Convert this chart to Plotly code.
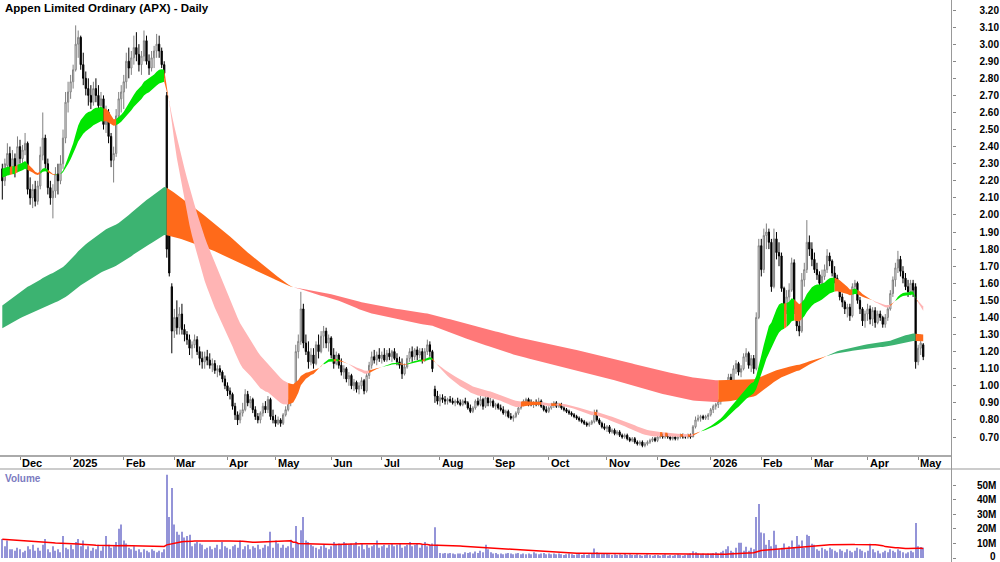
import pandas as pd
import plotly.graph_objects as go

# ---------------- data ----------------
holidays = ["2024-12-25", "2024-12-26", "2025-01-01", "2025-01-27", "2025-04-18", "2025-04-21",
            "2025-04-25", "2025-06-09", "2025-12-25", "2025-12-26", "2026-01-01", "2026-01-26",
            "2026-04-03", "2026-04-06"]
first_day, last_day = "2024-11-21", "2026-05-05"

opens = [
    2.27, 2.20, 2.29, 2.36, 2.27, 2.33, 2.26,
    2.40, 2.33, 2.38, 2.42, 2.15, 2.10, 2.15, 2.08, 2.17, 2.35, 2.45, 2.30, 2.16, 2.10, 2.14, 2.24, 2.20, 2.30, 2.45, 2.66,
    2.72, 2.78, 2.85, 3.00, 3.04, 2.88, 2.80, 2.74, 2.70, 2.66, 2.74, 2.70, 2.64, 2.68, 2.53, 2.60, 2.46, 2.32, 2.36, 2.58, 2.68,
    2.72, 2.78, 2.90, 2.86, 2.92, 2.98, 2.94, 2.88, 2.93, 3.02, 2.90, 2.86, 2.92, 2.96, 3.00, 2.96, 2.88, 2.70, 1.90, 1.58,
    1.32, 1.40, 1.34, 1.42, 1.33, 1.30, 1.27, 1.22, 1.24, 1.27, 1.20, 1.16, 1.14, 1.17, 1.15, 1.12, 1.13, 1.09, 1.10, 1.08, 1.04,
    1.00, 0.97, 0.95, 0.88, 0.83, 0.80, 0.84, 0.86, 0.95, 0.90, 0.92, 0.86, 0.82, 0.80, 0.84, 0.88, 0.86, 0.92, 0.82,
    0.80, 0.78, 0.80, 0.78, 0.83, 0.86, 0.90, 0.94, 0.97, 1.20, 1.26, 1.45, 1.25, 1.20, 1.14, 1.18, 1.13, 1.24, 1.20, 1.29, 1.32, 1.25,
    1.28, 1.18, 1.13, 1.18, 1.12, 1.08, 1.10, 1.04, 1.06, 1.00, 1.02, 0.98, 1.00, 1.03, 0.97, 1.06, 1.12, 1.17, 1.15, 1.18,
    1.16, 1.18, 1.15, 1.19, 1.17, 1.20, 1.16, 1.14, 1.12, 1.07, 1.11, 1.16, 1.20, 1.17, 1.21, 1.18, 1.20, 1.15, 1.20, 1.24, 1.20, 0.98, 0.94,
    0.91, 0.93, 0.92, 0.91, 0.92, 0.91, 0.90, 0.91, 0.90, 0.89, 0.91, 0.90, 0.87, 0.85, 0.87, 0.91, 0.89, 0.92, 0.88, 0.93, 0.90,
    0.91, 0.88, 0.89, 0.87, 0.86, 0.84, 0.85, 0.82, 0.81, 0.82, 0.84, 0.87, 0.89, 0.91, 0.92, 0.90, 0.89, 0.90, 0.89, 0.91, 0.88, 0.86,
    0.85, 0.87, 0.89, 0.90, 0.88, 0.89, 0.87, 0.86, 0.85, 0.84, 0.83, 0.82, 0.81, 0.80, 0.79, 0.78, 0.77, 0.78, 0.79, 0.84, 0.80, 0.78, 0.76,
    0.75, 0.76, 0.73, 0.74, 0.72, 0.73, 0.71, 0.70, 0.71, 0.69, 0.68, 0.69, 0.67, 0.66, 0.67, 0.65, 0.66, 0.67, 0.68, 0.69,
    0.68, 0.70, 0.71, 0.70, 0.71, 0.70, 0.69, 0.70, 0.69, 0.70, 0.71, 0.70, 0.70, 0.71, 0.70, 0.76, 0.80, 0.81, 0.82, 0.81, 0.82,
    0.83, 0.86, 0.88, 0.89, 0.91, 0.93, 0.98, 1.02, 1.05, 1.03, 1.10, 1.13, 1.08, 1.10, 1.17, 1.19, 1.12, 1.16, 1.10, 1.40,
    1.82, 1.68, 1.88, 1.90, 1.84, 1.58, 1.86, 1.78, 1.76, 1.57, 1.44, 1.52, 1.56, 1.72, 1.45, 1.35, 1.32, 1.62, 1.68, 1.84,
    1.80, 1.74, 1.68, 1.65, 1.60, 1.64, 1.68, 1.76, 1.73, 1.66, 1.63, 1.58, 1.52, 1.49, 1.45, 1.46, 1.41, 1.58, 1.60, 1.50, 1.45, 1.38,
    1.42, 1.45, 1.39, 1.44, 1.37, 1.42, 1.40, 1.36, 1.40, 1.45, 1.54, 1.62, 1.69, 1.74, 1.67, 1.63, 1.58, 1.55, 1.60, 1.58,
    1.14, 1.22, 1.24,
]
highs = [
    2.30, 2.33, 2.42, 2.40, 2.38, 2.36, 2.46,
    2.44, 2.41, 2.48, 2.43, 2.22, 2.18, 2.20, 2.20, 2.40, 2.60, 2.47, 2.33, 2.20, 2.18, 2.28, 2.30, 2.35, 2.50, 2.72, 2.78,
    2.82, 2.88, 3.11, 3.08, 3.05, 2.95, 2.84, 2.80, 2.76, 2.78, 2.80, 2.76, 2.72, 2.70, 2.64, 2.62, 2.48, 2.40, 2.62, 2.72, 2.76,
    2.82, 2.95, 2.98, 2.96, 3.05, 3.07, 3.00, 2.96, 3.08, 3.05, 2.94, 2.96, 2.99, 3.06, 3.05, 2.98, 2.90, 2.72, 1.96, 1.60,
    1.45, 1.50, 1.46, 1.48, 1.36, 1.32, 1.30, 1.26, 1.30, 1.29, 1.23, 1.20, 1.20, 1.21, 1.19, 1.16, 1.15, 1.12, 1.12, 1.09, 1.06,
    1.02, 0.99, 0.96, 0.90, 0.85, 0.86, 0.90, 0.98, 0.97, 0.94, 0.93, 0.88, 0.84, 0.85, 0.90, 0.91, 0.94, 0.93, 0.86,
    0.83, 0.82, 0.81, 0.84, 0.88, 0.92, 0.96, 0.99, 1.24, 1.30, 1.55, 1.48, 1.30, 1.26, 1.22, 1.22, 1.26, 1.30, 1.32, 1.35, 1.34, 1.30,
    1.29, 1.22, 1.20, 1.19, 1.16, 1.12, 1.11, 1.08, 1.07, 1.04, 1.03, 1.02, 1.05, 1.04, 1.08, 1.14, 1.20, 1.21, 1.20, 1.22,
    1.20, 1.22, 1.21, 1.22, 1.21, 1.22, 1.19, 1.17, 1.16, 1.13, 1.18, 1.22, 1.23, 1.22, 1.23, 1.22, 1.22, 1.22, 1.27, 1.26, 1.21, 1.00, 0.97,
    0.95, 0.95, 0.94, 0.93, 0.94, 0.93, 0.92, 0.93, 0.92, 0.92, 0.93, 0.91, 0.89, 0.88, 0.92, 0.93, 0.94, 0.93, 0.95, 0.94, 0.93,
    0.92, 0.90, 0.90, 0.89, 0.88, 0.86, 0.86, 0.84, 0.83, 0.85, 0.88, 0.90, 0.92, 0.93, 0.93, 0.92, 0.91, 0.92, 0.93, 0.92, 0.89, 0.88,
    0.88, 0.90, 0.91, 0.91, 0.90, 0.90, 0.88, 0.87, 0.86, 0.85, 0.84, 0.83, 0.82, 0.81, 0.80, 0.79, 0.79, 0.80, 0.86, 0.86, 0.81, 0.79, 0.78,
    0.77, 0.77, 0.75, 0.75, 0.74, 0.74, 0.72, 0.72, 0.72, 0.70, 0.70, 0.70, 0.68, 0.68, 0.68, 0.67, 0.68, 0.69, 0.70, 0.70,
    0.71, 0.72, 0.72, 0.72, 0.72, 0.71, 0.71, 0.71, 0.71, 0.72, 0.72, 0.71, 0.72, 0.72, 0.77, 0.82, 0.83, 0.83, 0.83, 0.83, 0.84,
    0.87, 0.89, 0.90, 0.92, 0.94, 1.00, 1.03, 1.07, 1.07, 1.12, 1.15, 1.14, 1.12, 1.19, 1.22, 1.20, 1.18, 1.18, 1.43, 1.86,
    1.86, 1.92, 1.95, 1.92, 1.86, 1.92, 1.90, 1.84, 1.78, 1.58, 1.56, 1.60, 1.75, 1.74, 1.48, 1.40, 1.66, 1.72, 1.97, 1.88,
    1.84, 1.78, 1.72, 1.67, 1.68, 1.71, 1.80, 1.78, 1.74, 1.70, 1.65, 1.60, 1.54, 1.50, 1.48, 1.48, 1.60, 1.62, 1.61, 1.52, 1.46, 1.44,
    1.48, 1.47, 1.46, 1.46, 1.44, 1.44, 1.41, 1.42, 1.47, 1.56, 1.64, 1.72, 1.79, 1.76, 1.70, 1.66, 1.62, 1.62, 1.62, 1.60,
    1.24, 1.30, 1.25,
]
lows = [
    2.09, 2.17, 2.26, 2.24, 2.24, 2.22, 2.25,
    2.30, 2.28, 2.35, 2.12, 2.06, 2.04, 2.05, 2.06, 2.15, 2.32, 2.26, 2.12, 2.06, 1.98, 2.10, 2.12, 2.18, 2.27, 2.42, 2.60,
    2.68, 2.74, 2.84, 2.92, 2.85, 2.76, 2.70, 2.64, 2.62, 2.64, 2.66, 2.60, 2.56, 2.50, 2.48, 2.42, 2.28, 2.19, 2.34, 2.54, 2.60,
    2.62, 2.74, 2.80, 2.82, 2.88, 2.90, 2.84, 2.82, 2.90, 2.88, 2.82, 2.84, 2.86, 2.92, 2.92, 2.86, 2.80, 1.75, 1.64, 1.19,
    1.28, 1.30, 1.30, 1.30, 1.26, 1.24, 1.18, 1.16, 1.22, 1.18, 1.12, 1.10, 1.10, 1.12, 1.10, 1.08, 1.07, 1.05, 1.06, 1.02, 0.98,
    0.94, 0.92, 0.86, 0.80, 0.77, 0.78, 0.82, 0.85, 0.88, 0.87, 0.84, 0.80, 0.78, 0.78, 0.82, 0.84, 0.84, 0.80, 0.78,
    0.76, 0.77, 0.76, 0.77, 0.82, 0.85, 0.88, 0.92, 0.96, 1.16, 1.24, 1.22, 1.18, 1.10, 1.12, 1.10, 1.12, 1.16, 1.19, 1.22, 1.22, 1.20,
    1.16, 1.10, 1.12, 1.10, 1.06, 1.04, 1.02, 1.00, 0.98, 0.97, 0.96, 0.95, 0.98, 0.95, 0.96, 1.04, 1.10, 1.13, 1.12, 1.14,
    1.13, 1.14, 1.14, 1.15, 1.14, 1.15, 1.12, 1.10, 1.04, 1.06, 1.10, 1.14, 1.14, 1.15, 1.15, 1.16, 1.13, 1.14, 1.18, 1.17, 1.08, 0.90, 0.89,
    0.88, 0.90, 0.89, 0.89, 0.90, 0.89, 0.88, 0.89, 0.88, 0.88, 0.89, 0.86, 0.84, 0.84, 0.86, 0.88, 0.88, 0.86, 0.87, 0.88, 0.88,
    0.87, 0.86, 0.86, 0.85, 0.83, 0.82, 0.81, 0.80, 0.79, 0.81, 0.83, 0.86, 0.88, 0.89, 0.88, 0.88, 0.87, 0.88, 0.88, 0.87, 0.85, 0.84,
    0.84, 0.86, 0.87, 0.87, 0.87, 0.86, 0.85, 0.84, 0.83, 0.82, 0.81, 0.80, 0.79, 0.78, 0.77, 0.76, 0.76, 0.77, 0.78, 0.79, 0.77, 0.75, 0.74,
    0.73, 0.72, 0.72, 0.71, 0.71, 0.70, 0.69, 0.69, 0.68, 0.67, 0.67, 0.66, 0.65, 0.65, 0.64, 0.64, 0.65, 0.66, 0.67, 0.67,
    0.67, 0.69, 0.69, 0.69, 0.69, 0.68, 0.68, 0.68, 0.68, 0.69, 0.69, 0.69, 0.69, 0.69, 0.70, 0.75, 0.79, 0.79, 0.80, 0.80, 0.80,
    0.82, 0.84, 0.86, 0.87, 0.89, 0.92, 0.96, 1.00, 1.01, 1.02, 1.07, 1.06, 1.05, 1.09, 1.14, 1.10, 1.08, 1.07, 1.09, 1.39,
    1.64, 1.66, 1.80, 1.80, 1.55, 1.57, 1.74, 1.70, 1.55, 1.38, 1.42, 1.46, 1.55, 1.42, 1.32, 1.29, 1.31, 1.58, 1.66, 1.76,
    1.70, 1.66, 1.62, 1.56, 1.58, 1.62, 1.66, 1.70, 1.64, 1.60, 1.56, 1.50, 1.46, 1.42, 1.40, 1.38, 1.40, 1.54, 1.48, 1.42, 1.35, 1.34,
    1.38, 1.36, 1.35, 1.34, 1.36, 1.38, 1.34, 1.34, 1.38, 1.44, 1.52, 1.58, 1.66, 1.64, 1.60, 1.56, 1.52, 1.53, 1.52, 1.10,
    1.12, 1.18, 1.15,
]
closes = [
    2.20, 2.30, 2.36, 2.27, 2.33, 2.26, 2.40,
    2.33, 2.38, 2.42, 2.15, 2.10, 2.15, 2.08, 2.17, 2.35, 2.45, 2.30, 2.16, 2.10, 2.14, 2.24, 2.20, 2.30, 2.45, 2.66, 2.72,
    2.78, 2.85, 3.00, 3.04, 2.88, 2.80, 2.74, 2.70, 2.66, 2.74, 2.70, 2.64, 2.68, 2.53, 2.60, 2.46, 2.32, 2.36, 2.58, 2.68, 2.72,
    2.78, 2.90, 2.86, 2.92, 2.98, 2.94, 2.88, 2.93, 3.02, 2.90, 2.86, 2.92, 2.96, 3.00, 2.96, 2.88, 2.83, 1.80, 1.66, 1.32,
    1.40, 1.34, 1.42, 1.33, 1.30, 1.27, 1.22, 1.24, 1.27, 1.20, 1.16, 1.14, 1.17, 1.15, 1.12, 1.13, 1.09, 1.10, 1.08, 1.04, 1.00,
    0.97, 0.95, 0.88, 0.83, 0.80, 0.84, 0.86, 0.95, 0.90, 0.92, 0.86, 0.82, 0.80, 0.84, 0.88, 0.86, 0.92, 0.82, 0.80,
    0.78, 0.80, 0.78, 0.83, 0.86, 0.90, 0.94, 0.97, 1.20, 1.26, 1.45, 1.25, 1.20, 1.14, 1.18, 1.13, 1.24, 1.20, 1.29, 1.32, 1.25, 1.28,
    1.18, 1.13, 1.18, 1.12, 1.08, 1.10, 1.04, 1.06, 1.00, 1.02, 0.98, 1.00, 1.03, 0.97, 1.06, 1.12, 1.17, 1.15, 1.18, 1.16,
    1.18, 1.15, 1.19, 1.17, 1.20, 1.16, 1.14, 1.12, 1.07, 1.11, 1.16, 1.20, 1.17, 1.21, 1.18, 1.20, 1.15, 1.20, 1.24, 1.20, 1.10, 0.94, 0.91,
    0.93, 0.92, 0.91, 0.92, 0.91, 0.90, 0.91, 0.90, 0.89, 0.91, 0.90, 0.87, 0.85, 0.87, 0.91, 0.89, 0.92, 0.88, 0.93, 0.90, 0.91,
    0.88, 0.89, 0.87, 0.86, 0.84, 0.85, 0.82, 0.81, 0.82, 0.84, 0.87, 0.89, 0.91, 0.92, 0.90, 0.89, 0.90, 0.89, 0.91, 0.88, 0.86, 0.85,
    0.87, 0.89, 0.90, 0.88, 0.89, 0.87, 0.86, 0.85, 0.84, 0.83, 0.82, 0.81, 0.80, 0.79, 0.78, 0.77, 0.78, 0.79, 0.84, 0.80, 0.78, 0.76, 0.75,
    0.76, 0.73, 0.74, 0.72, 0.73, 0.71, 0.70, 0.71, 0.69, 0.68, 0.69, 0.67, 0.66, 0.67, 0.65, 0.66, 0.67, 0.68, 0.69, 0.68,
    0.70, 0.71, 0.70, 0.71, 0.70, 0.69, 0.70, 0.69, 0.70, 0.71, 0.70, 0.70, 0.71, 0.70, 0.76, 0.80, 0.81, 0.82, 0.81, 0.82, 0.83,
    0.86, 0.88, 0.89, 0.91, 0.93, 0.98, 1.02, 1.05, 1.03, 1.10, 1.13, 1.08, 1.10, 1.17, 1.19, 1.12, 1.16, 1.10, 1.40, 1.82,
    1.68, 1.88, 1.90, 1.84, 1.58, 1.86, 1.78, 1.76, 1.57, 1.44, 1.52, 1.56, 1.72, 1.45, 1.35, 1.32, 1.62, 1.68, 1.84, 1.80,
    1.74, 1.68, 1.65, 1.60, 1.64, 1.68, 1.76, 1.73, 1.66, 1.63, 1.58, 1.52, 1.49, 1.45, 1.46, 1.41, 1.58, 1.60, 1.50, 1.45, 1.38, 1.42,
    1.45, 1.39, 1.44, 1.37, 1.42, 1.40, 1.36, 1.40, 1.45, 1.54, 1.62, 1.69, 1.74, 1.67, 1.63, 1.58, 1.55, 1.60, 1.56, 1.14,
    1.22, 1.25, 1.17,
]
volume_m = [
    13, 8, 12, 6, 6, 5, 7,
    6, 4, 5, 8, 6, 9, 5, 7, 5, 9, 13, 6, 4, 8, 5, 6, 4, 15, 7, 6,
    9, 6, 11, 13, 8, 12, 6, 8, 5, 7, 6, 9, 5, 8, 15, 9, 7, 8, 11, 20, 23,
    12, 10, 7, 6, 8, 5, 6, 4, 6, 5, 4, 6, 5, 4, 5, 4, 6, 57, 28, 48,
    23, 18, 16, 18, 14, 15, 16, 8, 10, 11, 10, 9, 6, 7, 8, 6, 7, 9, 6, 11, 8,
    7, 6, 8, 9, 7, 12, 6, 8, 9, 6, 8, 7, 9, 6, 7, 9, 8, 18, 7,
    12, 10, 7, 9, 7, 8, 12.5, 7, 22, 10, 19, 28, 12, 11, 9, 8, 7, 6, 8, 9, 7, 6,
    8, 11, 9, 10, 9, 11, 10, 9, 10, 9, 11, 8, 10, 6, 9, 7, 8, 9, 12, 7,
    8, 9, 7, 9, 10, 8, 9, 10, 7, 8, 9, 11, 8, 9, 10, 7, 9, 11, 8, 9, 10, 21, 9,
    3.5, 3, 3.5, 3, 3.5, 3, 2.5, 3, 3, 2.5, 4, 3.5, 4, 3, 4.5, 3.5, 5, 4, 9, 6, 4,
    3, 3.5, 2.5, 3, 2.5, 3, 3.5, 3, 2.5, 3, 3.5, 2.5, 3, 2.5, 3, 2.5, 4, 3, 2.5, 3, 3.5, 2.5,
    3, 2.5, 3, 2.5, 3, 2.5, 2, 2.5, 3, 2.5, 2, 2.5, 3, 2, 2.5, 2, 2.5, 3, 6.5, 4, 3.5, 2.5, 3,
    3, 2.5, 2, 2.5, 2, 2.5, 2, 3, 2, 2.5, 2, 2, 2.5, 2, 1.5, 2, 2.5, 2, 1.5, 2,
    2, 1.5, 2, 2.5, 1.5, 2, 1.5, 2, 2.5, 2, 1.5, 2, 2.5, 3, 4.6, 4, 3, 2.5, 3, 2.5, 3,
    3, 3.5, 4, 3, 4, 5, 6, 8, 5, 4, 7, 10.5, 10.5, 5, 7.7, 5, 7, 6, 28, 37,
    17.5, 17, 9, 12.3, 8, 18.7, 9, 6, 7, 10, 6, 8, 12, 7, 15, 9, 12, 7, 16, 15,
    9.8, 9, 6, 5, 7, 6, 5, 7, 6, 5, 4, 6, 5, 4, 6, 5, 4, 5, 7, 6, 5, 4,
    5, 9.8, 6, 4, 5, 3, 4, 5, 4, 6, 5, 4, 6, 5, 4, 3, 4, 5, 4, 24,
    8, 7.5, 7,
]

# indicator settings (seeds = values visible at the left edge of the chart)
short_fast_n, short_slow_n = 21, 34
long_fast_n, long_slow_n = 144, 233
short_seed = (2.28, 2.22)
long_seed = (1.46, 1.33)
vol_ma_n, vol_ma_seed = 50, 12.8

price_ticks = [0.70, 0.80, 0.90, 1.00, 1.10, 1.20, 1.30, 1.40, 1.50, 1.60, 1.70, 1.80, 1.90, 2.00,
               2.10, 2.20, 2.30, 2.40, 2.50, 2.60, 2.70, 2.80, 2.90, 3.00, 3.10, 3.20]
volume_ticks_m = [0, 10, 20, 30, 40, 50]

# ---------------- derived ----------------
dates = [d for d in pd.bdate_range(first_day, last_day) if d.strftime("%Y-%m-%d") not in holidays]
n = len(dates)
for name, arr in [("opens", opens), ("highs", highs), ("lows", lows), ("closes", closes), ("volume", volume_m)]:
    assert len(arr) == n, (name, len(arr), n)
xs = list(range(n))


def ema(vals, period, seed):
    a = 2.0 / (period + 1)
    out, e = [], seed
    for v in vals:
        e = e + a * (v - e)
        out.append(e)
    return out


def sma_seeded(vals, period, seed):
    out = []
    for i in range(len(vals)):
        w = vals[max(0, i - period + 1):i + 1]
        out.append((sum(w) + (period - len(w)) * seed) / period)
    return out


s_fast = ema(closes, short_fast_n, short_seed[0])
s_slow = ema(closes, short_slow_n, short_seed[1])
l_fast = ema(closes, long_fast_n, long_seed[0])
l_slow = ema(closes, long_slow_n, long_seed[1])
vol = [v * 1e6 for v in volume_m]
vol_ma = [v * 1e6 for v in sma_seeded(volume_m, vol_ma_n, vol_ma_seed)]

SHORT_COLORS = {"up": "#00e600", "mid": "#ff6a1a", "down": "#ffb4b4"}
LONG_COLORS = {"up": "#3cb371", "mid": "#ff6a1a", "down": "#ff7878"}


def ribbon(fast, slow, colors):
    states = []
    for i in range(n):
        rising = fast[i] >= fast[i - 1] if i > 0 else True
        if fast[i] >= slow[i] and rising:
            states.append("up")
        elif fast[i] < slow[i] and not rising:
            states.append("down")
        else:
            states.append("mid")
    traces = []
    start = 0
    for i in range(1, n + 1):
        if i == n or states[i] != states[start]:
            end = min(i, n - 1)
            seg = list(range(start, end + 1))
            px = seg + seg[::-1]
            py = [fast[k] for k in seg] + [slow[k] for k in seg[::-1]]
            traces.append(go.Scatter(x=px, y=py, mode="lines", fill="toself",
                                     fillcolor=colors[states[start]], line=dict(width=0),
                                     hoverinfo="skip", showlegend=False, xaxis="x", yaxis="y"))
            start = i
    return traces


fig = go.Figure()
for t in ribbon(l_fast, l_slow, LONG_COLORS):
    fig.add_trace(t)
for t in ribbon(s_fast, s_slow, SHORT_COLORS):
    fig.add_trace(t)

fig.add_trace(go.Candlestick(
    x=xs, open=opens, high=highs, low=lows, close=closes,
    increasing=dict(line=dict(color="#808080", width=1), fillcolor="#ffffff"),
    decreasing=dict(line=dict(color="#000000", width=1), fillcolor="#000000"),
    whiskerwidth=0, showlegend=False, xaxis="x", yaxis="y"))

fig.add_trace(go.Bar(x=xs, y=vol, marker=dict(color="#9494d8", line=dict(width=0)), width=0.4,
                     showlegend=False, xaxis="x2", yaxis="y2"))
fig.add_trace(go.Scatter(x=xs, y=vol_ma, mode="lines", line=dict(color="#ff0000", width=1.5),
                         showlegend=False, xaxis="x2", yaxis="y2"))

# month ticks
month_idx, month_lbl = [], []
for i, d in enumerate(dates):
    if i == 0 or d.month != dates[i - 1].month:
        if i == 0 and d.day > 7:
            continue
        month_idx.append(i)
        month_lbl.append(str(d.year) if d.month == 1 else d.strftime("%b"))

W, H = 1000, 562
px_per_day = 2.53
x0_px = 2.3
plot_right_px = 951.5
xr = [-x0_px / px_per_day, (plot_right_px - x0_px) / px_per_day]

price_bottom_px, vol_top_px = 455, 469
p_per_px = 0.1 / 17.08
price_range = [0.70 - (price_bottom_px - 437) * p_per_px, 0.70 + 437 * p_per_px]
vol_per_px = 1e6 / 1.46
vol_range = [-(H - 558) * vol_per_px, (558 - vol_top_px) * vol_per_px]

dom_x = [0, plot_right_px / W]
axis_font = dict(family="Liberation Sans, Arial", size=10, color="#000000", weight="bold")

fig.update_layout(
    width=W, height=H, margin=dict(l=0, r=0, t=0, b=0),
    paper_bgcolor="white", plot_bgcolor="white", showlegend=False,
    xaxis=dict(domain=dom_x, range=xr, anchor="y", showgrid=False, zeroline=False,
               tickvals=month_idx, showticklabels=False, ticks="outside", ticklen=3,
               tickcolor="#888888", showline=True, linecolor="#aaaaaa", linewidth=2,
               rangeslider=dict(visible=False), fixedrange=True),
    yaxis=dict(domain=[(H - price_bottom_px) / H, 1], range=price_range, side="right", anchor="x",
               showgrid=False, zeroline=False, tickvals=price_ticks,
               ticktext=["%.2f" % v for v in price_ticks], ticks="outside", ticklen=3,
               tickcolor="#888888", tickfont=axis_font, ticklabelstandoff=22, showline=False),
    xaxis2=dict(domain=dom_x, range=xr, anchor="y2", showgrid=False, zeroline=False,
                showticklabels=False, ticks="", showline=False),
    yaxis2=dict(domain=[0, (H - vol_top_px) / H], range=vol_range, side="right", anchor="x2",
                showgrid=False, zeroline=False, tickvals=[v * 1e6 for v in volume_ticks_m],
                showticklabels=False, ticks="outside", ticklen=3, tickcolor="#888888", showline=False),
)

# frame lines
fig.add_shape(type="line", xref="paper", yref="paper", x0=plot_right_px / W, x1=plot_right_px / W,
              y0=0, y1=1, line=dict(color="#999999", width=1))
fig.add_shape(type="line", xref="paper", yref="paper", x0=0, x1=1,
              y0=(H - vol_top_px) / H, y1=(H - vol_top_px) / H, line=dict(color="#999999", width=1))

# month labels
for i, lbl in zip(month_idx, month_lbl):
    fig.add_annotation(x=i, xref="x", y=(H - 462.5) / H, yref="paper", text=lbl, showarrow=False,
                       xanchor="left", yanchor="middle", xshift=0,
                       font=dict(family="Liberation Sans, Arial", size=11, color="#000000", weight="bold"))

# volume tick labels
for v in volume_ticks_m:
    fig.add_annotation(x=0.998, xref="paper", y=v * 1e6, yref="y2", text=("%dM" % v) if v else "0",
                       showarrow=False, xanchor="right", yanchor="middle", font=axis_font,
                       yshift=2 if v == 0 else 0)

fig.add_annotation(x=0.003, xref="paper", y=(H - 8) / H, yref="paper",
                   text="Appen Limited Ordinary (APX) - Daily", showarrow=False,
                   xanchor="left", yanchor="middle",
                   font=dict(family="Liberation Sans, Arial", size=11.5, color="#000000", weight="bold"))
fig.add_annotation(x=0.003, xref="paper", y=(H - 478) / H, yref="paper", text="Volume",
                   showarrow=False, xanchor="left", yanchor="middle",
                   font=dict(family="Liberation Sans, Arial", size=10, color="#7b7bbf", weight="bold"))

fig.write_html("out.html")
